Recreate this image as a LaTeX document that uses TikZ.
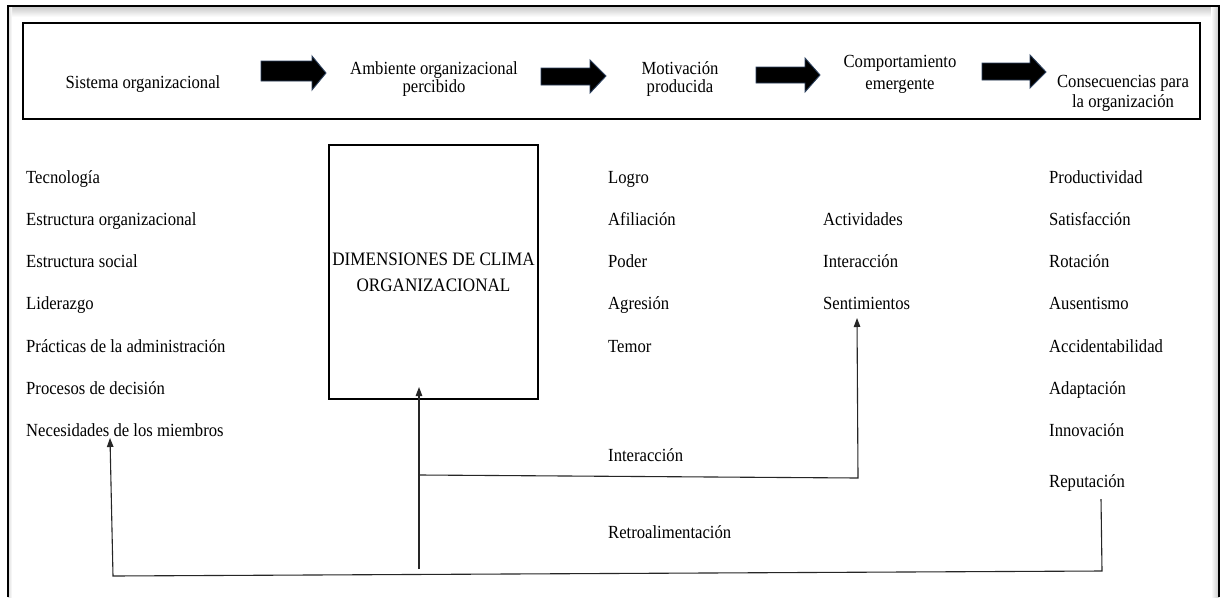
\documentclass[tikz,border=0pt]{standalone}
\usepackage{fontspec}
\setmainfont{Liberation Serif}[FakeStretch=0.9]
\usetikzlibrary{arrows.meta,calc}
\begin{document}
\begin{tikzpicture}[x=1pt,y=-1pt,
  lbl/.style={anchor=base west,inner sep=0pt,font=\fontsize{18.5}{20}\selectfont},
  headtxt/.style={anchor=base,align=center,inner sep=0pt,font=\fontsize{18.5}{20}\selectfont},
  barrow/.style={fill=black,draw={rgb,255:red,45;green,65;blue,95},line width=0.9pt,line join=miter},
  link/.style={draw=black!85,line width=1.1pt},
  tipped/.style={-{Triangle[length=9pt,width=6.5pt]}}
]
\useasboundingbox (0,0) rectangle (1222,597);
\fill[white] (0,0) rectangle (1222,597);

% soft inner shadow of the outer frame
\shade[top color=black!22,bottom color=white] (8,6) rectangle (1219,17);
\shade[left color=white,right color=black!22] (1211,6) rectangle (1219,597);
\shade[left color=black!15,right color=white] (8,6) rectangle (12,597);
% outer frame
\draw[line width=1.7pt] (8,597) -- (8,6) -- (1219,6) -- (1219,597);

% process band (base anchor of a two-line node sits on its last line)
\draw[line width=1.3pt,fill=white] (23,23) rectangle (1200,119);

\node[headtxt] (sis) at (143,88) {Sistema organizacional};
\node[headtxt] (amb) at (434,92) {Ambiente organizacional\\[-2pt]percibido};
\node[headtxt] (mot) at (680,92) {Motivación\\[-2pt]producida};
\node[headtxt] (comp) at (900,89) {Comportamiento\\[2pt]emergente};
\node[headtxt] (cons) at (1123,107) {Consecuencias para\\la organización};

% block arrows between the stages
\draw[barrow] (261,61) -- (312,61) -- (312,56) -- (326,73) -- (312,90) -- (312,81) -- (261,81) -- cycle;
\draw[barrow] (541,68) -- (590,68) -- (590,60) -- (606,76) -- (590,93) -- (590,85) -- (541,85) -- cycle;
\draw[barrow] (756,67) -- (805,67) -- (805,58) -- (820,75) -- (805,92) -- (805,83) -- (756,83) -- cycle;
\draw[barrow] (982,63) -- (1030,63) -- (1030,55) -- (1046,72) -- (1030,88) -- (1030,80) -- (982,80) -- cycle;

% organisational system
\node[lbl] (tec) at (26,183) {Tecnología};
\node[lbl] (eor) at (26,225) {Estructura organizacional};
\node[lbl] (eso) at (26,267) {Estructura social};
\node[lbl] (lid) at (26,309.5) {Liderazgo};
\node[lbl] (pra) at (26,352) {Prácticas de la administración};
\node[lbl] (pro) at (26,394) {Procesos de decisión};
\node[lbl] (nec) at (26,436) {Necesidades de los miembros};

% climate dimensions
\node[draw,line width=1.6pt,minimum width=209,minimum height=254,inner sep=0pt,
      align=center,font=\fontsize{19}{26}\selectfont] (dim) at (433.5,272)
      {DIMENSIONES DE CLIMA\\ORGANIZACIONAL};

% motivation
\node[lbl] (log) at (608,183) {Logro};
\node[lbl] (afi) at (608,225) {Afiliación};
\node[lbl] (pod) at (608,267) {Poder};
\node[lbl] (agr) at (608,309.5) {Agresión};
\node[lbl] (tem) at (608,352) {Temor};

% emergent behaviour
\node[lbl] (act) at (823,225) {Actividades};
\node[lbl] (int) at (823,267) {Interacción};
\node[lbl] (sen) at (823,309.5) {Sentimientos};

% consequences
\node[lbl] (prd) at (1049,183) {Productividad};
\node[lbl] (sat) at (1049,225) {Satisfacción};
\node[lbl] (rot) at (1049,267) {Rotación};
\node[lbl] (aus) at (1049,309.5) {Ausentismo};
\node[lbl] (acc) at (1049,352) {Accidentabilidad};
\node[lbl] (ada) at (1049,394) {Adaptación};
\node[lbl] (inn) at (1049,436) {Innovación};
\node[lbl] (rep) at (1049,487) {Reputación};

% loop labels
\node[lbl] (ilbl) at (608,461) {Interacción};
\node[lbl] (rlbl) at (608,538) {Retroalimentación};

% loop connectors
\coordinate (repfoot) at (1101,499);
\coordinate (fbR) at (1102,571);
\coordinate (fbL) at (113,576);
\coordinate (necin) at (110,438);
\coordinate (midfoot) at (419,569);
\coordinate (dimin) at (419,387);
\coordinate (intL) at (420,475);
\coordinate (intR) at (858,478);
\coordinate (senin) at (857,318);

\draw[link,tipped] (repfoot) -- (fbR) -- (fbL) -- (necin);
\draw[link,tipped] (midfoot) -- (dimin);
\draw[link,tipped] (intL) -- (intR) -- (senin);
\end{tikzpicture}
\end{document}
